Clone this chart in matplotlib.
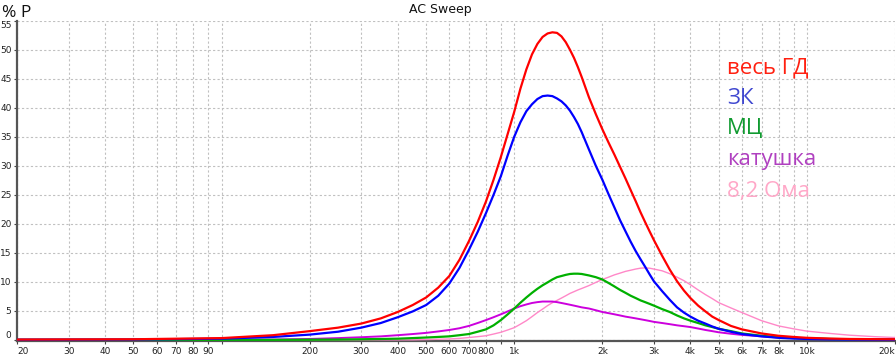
import matplotlib

matplotlib.use("Agg")
import matplotlib.pyplot as plt

# frequency grid, Hz
freq = [20, 50, 100, 150, 200, 250, 300, 350, 400, 450, 500, 550, 600, 650,
        700, 750, 800, 850, 900, 950, 1000, 1050, 1100, 1150, 1200, 1250,
        1300, 1350, 1400, 1450, 1500, 1550, 1600, 1650, 1700, 1800, 1900,
        2000, 2100, 2200, 2300, 2400, 2500, 2600, 2700, 2800, 2900, 3000,
        3200, 3400, 3600, 3800, 4000, 4250, 4500, 4750, 5000, 5500, 6000,
        7000, 8000, 9000, 10000, 12000, 14000, 17000, 20000]

# % of power
whole = [0.05, 0.1, 0.3, 0.8, 1.5, 2.1, 2.8, 3.7, 4.8, 6.0, 7.3, 9.0, 11.0, 13.8,
         17.0, 20.3, 23.8, 27.6, 31.5, 35.5, 39.3, 43.3, 46.6, 49.2, 51.0, 52.2,
         52.8, 53.0, 52.9, 52.3, 51.3, 50.0, 48.6, 47.0, 45.3, 41.8, 38.9,
         36.3, 34.0, 31.9, 29.8, 27.8, 25.8, 23.9, 22.0, 20.3, 18.7, 17.2,
         14.5, 12.1, 10.1, 8.5, 7.2, 5.9, 4.9, 4.0, 3.4, 2.4, 1.8,
         1.1, 0.7, 0.5, 0.35, 0.22, 0.15, 0.12, 0.1]
zk = [0.02, 0.05, 0.2, 0.5, 0.9, 1.4, 2.1, 2.9, 3.9, 4.9, 6.0, 7.6, 9.7, 12.4,
      15.5, 18.6, 21.8, 25.0, 28.2, 31.8, 35.0, 37.5, 39.4, 40.6, 41.5, 42.0,
      42.1, 42.0, 41.6, 41.1, 40.4, 39.5, 38.4, 37.2, 35.8, 32.8, 30.0,
      27.6, 25.1, 22.8, 20.6, 18.7, 16.9, 15.3, 13.9, 12.6, 11.3, 10.1,
      8.4, 6.9, 5.6, 4.7, 4.0, 3.3, 2.8, 2.3, 1.9, 1.4, 1.0,
      0.6, 0.35, 0.22, 0.15, 0.08, 0.05, 0.03, 0.02]
mc = [0, 0, 0, 0, 0.02, 0.05, 0.1, 0.15, 0.2, 0.3, 0.4, 0.5, 0.6, 0.8,
      1.0, 1.4, 1.8, 2.5, 3.4, 4.4, 5.4, 6.4, 7.3, 8.1, 8.8, 9.4,
      9.9, 10.4, 10.8, 11.0, 11.2, 11.35, 11.4, 11.4, 11.35, 11.1, 10.8,
      10.4, 9.8, 9.2, 8.6, 8.1, 7.6, 7.2, 6.8, 6.5, 6.2, 5.9,
      5.3, 4.8, 4.2, 3.7, 3.3, 2.9, 2.5, 2.2, 1.9, 1.5, 1.1,
      0.7, 0.45, 0.33, 0.25, 0.15, 0.1, 0.07, 0.05]
coil = [0, 0, 0, 0.05, 0.15, 0.3, 0.45, 0.6, 0.8, 1.0, 1.2, 1.45, 1.7, 2.0,
        2.4, 2.9, 3.4, 3.9, 4.4, 4.9, 5.4, 5.8, 6.1, 6.35, 6.5, 6.6,
        6.6, 6.6, 6.5, 6.35, 6.2, 6.05, 5.9, 5.75, 5.6, 5.4, 5.1,
        4.8, 4.6, 4.4, 4.2, 4.0, 3.85, 3.7, 3.55, 3.4, 3.25, 3.1,
        2.9, 2.7, 2.5, 2.35, 2.2, 1.95, 1.7, 1.5, 1.3, 1.05, 0.85,
        0.6, 0.4, 0.3, 0.25, 0.15, 0.1, 0.07, 0.05]
r82 = [0, 0, 0, 0, 0, 0, 0, 0, 0, 0, 0.05, 0.1, 0.15, 0.25,
       0.4, 0.55, 0.7, 1.0, 1.3, 1.7, 2.1, 2.7, 3.3, 4.0, 4.7, 5.3,
       5.9, 6.4, 6.8, 7.2, 7.6, 8.0, 8.3, 8.6, 8.85, 9.35, 9.9,
       10.4, 10.8, 11.2, 11.5, 11.8, 12.0, 12.2, 12.35, 12.4, 12.35, 12.2,
       11.9, 11.4, 10.8, 10.2, 9.5, 8.6, 7.8, 7.1, 6.4, 5.5, 4.7,
       3.3, 2.4, 1.9, 1.5, 1.1, 0.8, 0.55, 0.4]

names = ["весь ГД", "ЗК", "МЦ", "катушка", "8,2 Ома"]
line_colors = ["#ff0000", "#0000ff", "#00b000", "#cc00dd", "#ff88c8"]
text_colors = ["#ff2010", "#4048d0", "#109a30", "#b040c0", "#ffa8c8"]

xticks = [20, 30, 40, 50, 60, 70, 80, 90, 100, 200, 300, 400, 500, 600, 700,
          800, 900, 1000, 2000, 3000, 4000, 5000, 6000, 7000, 8000, 9000,
          10000, 20000]
xlabels = ["20", "30", "40", "50", "60", "70", "80", "90", "", "200", "300",
           "400", "500", "600", "700", "800", "", "1k", "2k", "3k", "4k",
           "5k", "6k", "7k", "8k", "", "10k", "20k"]
yticks = list(range(0, 60, 5))

fig = plt.figure(figsize=(8.96, 3.57), dpi=100)
ax = fig.add_axes([17 / 896, 16 / 357, 878 / 896, 320.3 / 357])

series = [whole, zk, mc, coil, r82]
widths = [1.6, 1.6, 1.6, 1.4, 1.0]
orders = [5, 4, 3, 2, 1]
for vals, col, lw, zo in zip(series, line_colors, widths, orders):
    ax.plot(freq, vals, color=col, lw=lw, zorder=zo + 2)

ax.set_xscale("log")
ax.set_xlim(20, 20000)
ax.set_ylim(-0.2, 55)
ax.set_xticks(xticks)
ax.set_xticklabels(xlabels)
ax.minorticks_off()
ax.set_yticks(yticks)
ax.tick_params(axis="both", labelsize=6.5, length=2.5, width=0.8,
               colors="#444444", labelcolor="#222222", pad=1.5)
xl = ax.get_xticklabels()
xl[0].set_ha("left")
xl[-1].set_ha("right")
yl = ax.get_yticklabels()
yl[0].set_va("bottom")
yl[-1].set_va("top")

ax.grid(True, color="#c0c0c0", lw=0.8, linestyle=(0, (2, 2)))
for side in ["top", "right"]:
    ax.spines[side].set_visible(False)
for side in ["left", "bottom"]:
    ax.spines[side].set_color("#555555")
    ax.spines[side].set_linewidth(1.6)

fig.text(440 / 896, 1 - 10 / 357, "AC Sweep", ha="center", va="center",
         fontsize=9, color="#111111")
fig.text(2 / 896, 1 - 17 / 357, "% P", ha="left", va="baseline",
         fontsize=12.5, family="Open Sans", color="#111111")

baselines = [73, 104, 134, 165, 197]
for name, col, yb in zip(names, text_colors, baselines):
    fig.text(727 / 896, 1 - yb / 357, name, ha="left", va="baseline",
             fontsize=16, family="Open Sans", color=col)

fig.savefig("out.png", dpi=100)
